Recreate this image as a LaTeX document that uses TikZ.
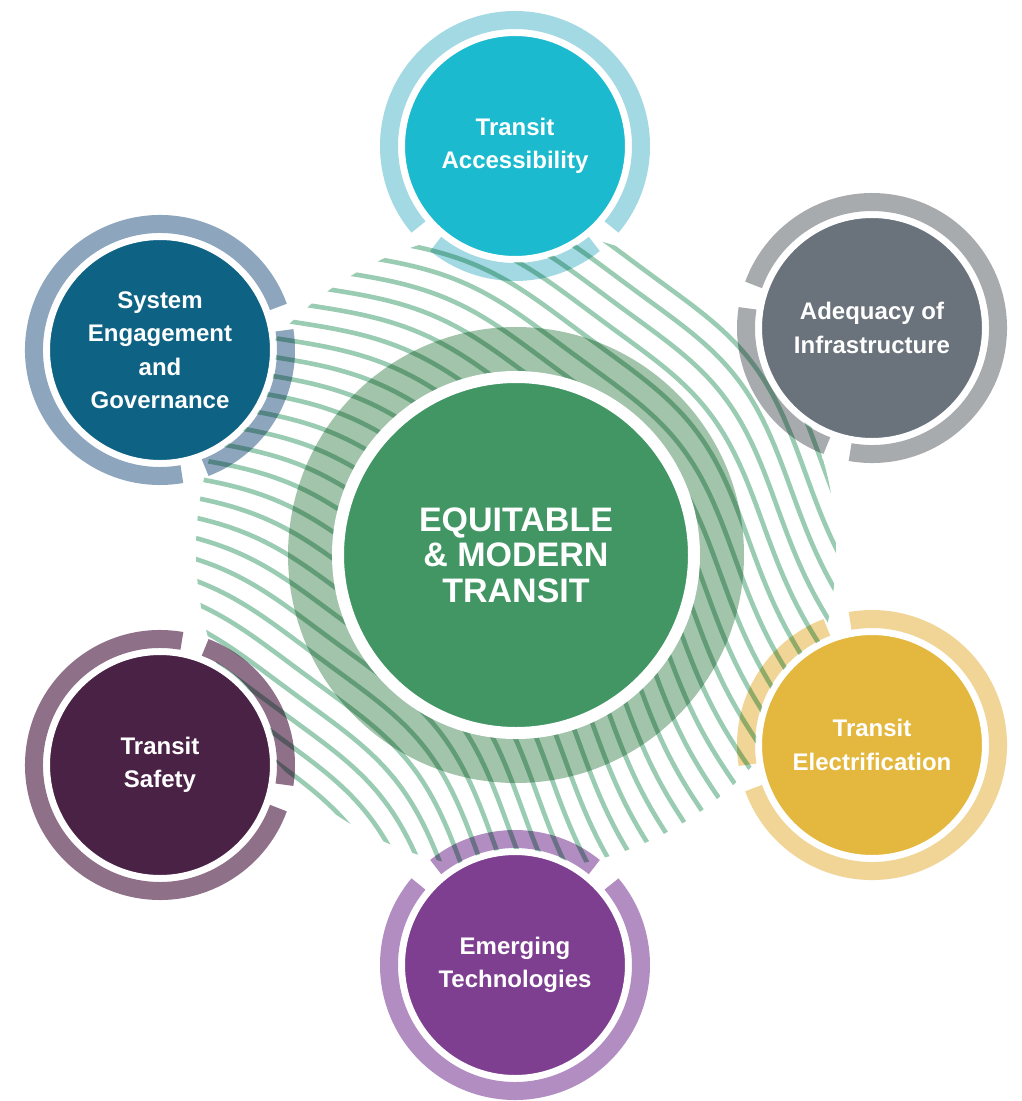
\documentclass[tikz,border=0pt]{standalone}
\usepackage{fontspec}
\setmainfont{Liberation Sans}
\definecolor{accfill}{HTML}{1BBACF}
\definecolor{accring}{HTML}{A2D9E3}
\definecolor{sysfill}{HTML}{0E6384}
\definecolor{sysring}{HTML}{8DA6BE}
\definecolor{adqfill}{HTML}{6A737B}
\definecolor{adqring}{HTML}{A8ABAE}
\definecolor{elefill}{HTML}{E4B83E}
\definecolor{elering}{HTML}{F0D596}
\definecolor{saffill}{HTML}{4A2245}
\definecolor{safring}{HTML}{8E7089}
\definecolor{emtfill}{HTML}{7E3F91}
\definecolor{emtring}{HTML}{B18DC1}
\definecolor{cenfill}{HTML}{419664}
\definecolor{cenring}{HTML}{A2C4AB}
\definecolor{wavegreen}{HTML}{99CCB2}
\newcommand\myring[3]{%
  \draw[ringarc,draw=#3] ([shift={(#2+50:126)}]#1.center) arc[start angle=#2+50, end angle=#2+310, radius=126];
  \draw[ringarc,draw=#3] ([shift={(#2-39:126)}]#1.center) arc[start angle=#2-39, end angle=#2+39, radius=126];}
\begin{document}
\begin{tikzpicture}[x=1pt,y=1pt,
  ringarc/.style={line width=18pt},
  bubble/.style={circle, draw=white, line width=6pt, minimum size=226pt, inner sep=0pt,
    text=white, align=center, font=\bfseries\fontsize{24}{33.5}\selectfont},
  hub/.style={circle, draw=white, line width=12pt, minimum size=356pt, inner sep=0pt,
    text=white, align=center, font=\bfseries\fontsize{34}{35.5}\selectfont},
  waveline/.style={draw=wavegreen, line width=4.6pt}]
\fill[white] (0,0) rectangle (1021,-1101);
\useasboundingbox (0,0) rectangle (1021,-1101);
\coordinate (cen) at (516,-555);
\coordinate (wc) at (516,-550);
% wavy lines
\begin{scope}
\clip (wc) circle (320);
\foreach \v in {-440,-418,...,440}{
  \draw[waveline] plot[variable=\t, domain=-480:480, samples=121, smooth]
   ({516 + \t*cos(-40) - (\v + 85*sin(0.3158*\t+107) + 7*sin(1.15*\t))*sin(-40)},
    {-550 + \t*sin(-40) + (\v + 85*sin(0.3158*\t+107) + 7*sin(1.15*\t))*cos(-40)});
}
\end{scope}
% translucent green ring
\begin{scope}[blend mode=multiply]
\fill[cenring] (cen) circle (228);
\end{scope}
\node[hub, fill=cenfill] (hubnode) at (cen) {EQUITABLE\\\& MODERN\\TRANSIT};
\node[bubble, fill=accfill] (acc) at (515,-146) {Transit\\Accessibility};
\node[bubble, fill=sysfill] (sys) at (160,-350) {System\\Engagement\\and\\Governance};
\node[bubble, fill=adqfill] (adq) at (872,-328) {Adequacy of\\Infrastructure};
\node[bubble, fill=elefill] (ele) at (872,-745) {Transit\\Electrification};
\node[bubble, fill=saffill] (saf) at (160,-765) {Transit\\Safety};
\node[bubble, fill=emtfill] (emt) at (515,-965) {Emerging\\Technologies};
\begin{scope}[blend mode=multiply]
\myring{acc}{-90}{accring}
\myring{sys}{-30}{sysring}
\myring{adq}{210}{adqring}
\myring{ele}{150}{elering}
\myring{saf}{30}{safring}
\myring{emt}{90}{emtring}
\end{scope}
\end{tikzpicture}
\end{document}
